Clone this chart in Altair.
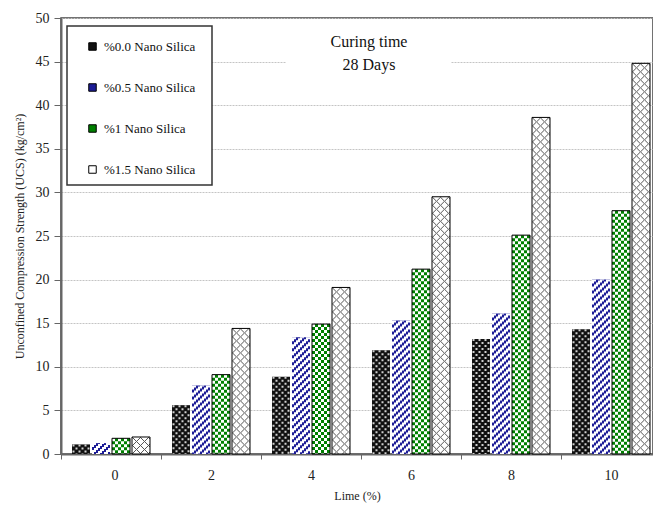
import json
import altair as alt
import pandas as pd

lime = ["0", "2", "4", "6", "8", "10"]
series = ["%0.0 Nano Silica", "%0.5 Nano Silica", "%1 Nano Silica", "%1.5 Nano Silica"]
ns00 = [1.1, 5.6, 8.85, 11.9, 13.2, 14.3]
ns05 = [1.25, 7.85, 13.4, 15.3, 16.1, 20.0]
ns10 = [1.8, 9.1, 14.9, 21.2, 25.1, 27.9]
ns15 = [1.95, 14.4, 19.1, 29.5, 38.6, 44.8]
yticks = [0, 5, 10, 15, 20, 25, 30, 35, 40, 45, 50]
title_lines = ["Curing time", "28 Days"]

rows = []
for s, (name, vals) in enumerate(zip(series, [ns00, ns05, ns10, ns15])):
    for g, (l, v) in enumerate(zip(lime, vals)):
        rows.append({"lime": l, "g": g, "series": name, "s": s, "ucs": v})
df = pd.DataFrame(rows)
one = pd.DataFrame({"k": [0]})

FONT = "Liberation Serif"
colors = ["#111111", "#1c1c96", "#008000", "#ffffff"]

W, H = 592, 436
UNIT = 100.0                  # pixels per category
GROUP_LEFT, STEP, BARW = 11.0, 20.0, 18.0

xaxis = alt.Axis(title="Lime (%)", values=list(range(len(lime))),
                 labelExpr=json.dumps(lime) + "[datum.value]",
                 labelOffset=UNIT / 2, labelPadding=9, titlePadding=8,
                 grid=False, tickSize=5)
xscale = alt.Scale(domain=[0, W / UNIT], nice=False, zero=False)


def X(field):
    return alt.X(field + ":Q", scale=xscale, axis=xaxis)


def X2(field):
    return alt.X2(field)


Y = alt.Y("ucs:Q", scale=alt.Scale(domain=[0, 50], nice=False),
          axis=alt.Axis(title="Unconfined Compression Strength (UCS) (kg/cm²)",
                        values=yticks, tickSize=7, labelPadding=5, titlePadding=9,
                        grid=True, gridColor="#c4c4c4", gridDash=[2, 1]))

center_expr = f"datum.g + ({GROUP_LEFT} + {STEP} * datum.s + {BARW / 2}) / {UNIT}"

base = alt.Chart(df).transform_calculate(c=center_expr)

legend_box = alt.Chart(one).mark_rect(fill="white", stroke="#333", strokeWidth=1.5).encode(
    x=alt.value(6), x2=alt.value(151), y=alt.value(8), y2=alt.value(167))
text_box = alt.Chart(one).mark_rect(fill="white").encode(
    x=alt.value(225), x2=alt.value(390), y=alt.value(2), y2=alt.value(62))
title_text = alt.Chart(one).mark_text(text=title_lines, font=FONT, fontSize=16,
                                      lineHeight=23, align="center", baseline="alphabetic",
                                      color="#111").encode(x=alt.value(308), y=alt.value(29))

bars = base.transform_calculate(
    x0=f"datum.c - {BARW / 2} / {UNIT}", x1=f"datum.c + {BARW / 2} / {UNIT}"
).mark_bar().encode(
    x=X("x0"), x2=X2("x1"), y=Y, y2=alt.datum(0),
    fill=alt.Fill("series:N", sort=series,
                  scale=alt.Scale(domain=series, range=colors),
                  legend=alt.Legend(title=None, orient="none", legendX=25, legendY=22,
                                    symbolType="square", symbolSize=56,
                                    symbolStrokeColor="#000", symbolStrokeWidth=1,
                                    labelFont=FONT, labelFontSize=13, labelColor="#111",
                                    labelOffset=5, rowPadding=27, padding=0)))

layers = [legend_box, text_box, bars]


def rule_layer(name, color, width, dash, offset, px):
    return base.transform_filter(alt.datum.series == name).transform_calculate(
        xr=f"datum.c + ({px}) / {UNIT}"
    ).mark_rule(color=color, strokeWidth=width, strokeDash=dash,
                strokeDashOffset=offset).encode(
        x=X("xr"), y=Y, y2=alt.datum(0))


# black: light dots
for i in range(6):
    layers.append(rule_layer(series[0], "#d0d0d0", 2, [2, 4], 0 if i % 2 == 0 else 3, -7.5 + 3 * i))
# blue: white diagonal stripes
for i in range(9):
    layers.append(rule_layer(series[1], "#ffffff", 2, [4, 3], (2 * i) % 7, -8 + 2 * i))
# green: white checks
for i in range(6):
    layers.append(rule_layer(series[2], "#ffffff", 3, [3, 3], 0 if i % 2 == 0 else 3, -7.5 + 3 * i))
# white: grey cross hatch
P = 8
for i in range(18):
    p1 = i % P
    p2 = (-i) % P
    if p1 == p2:
        dash = [1, P - 1]
        p = p1
    else:
        p, q = min(p1, p2), max(p1, p2)
        dash = [1, q - p - 1, 1, P - (q - p) - 1]
    layers.append(rule_layer(series[3], "#555555", 1, dash, (P - p) % P, -8.5 + i))

outline = base.transform_filter(
    (alt.datum.series == series[2]) | (alt.datum.series == series[3])
).transform_calculate(
    x0=f"datum.c - {BARW / 2} / {UNIT}", x1=f"datum.c + {BARW / 2} / {UNIT}"
).mark_bar(fillOpacity=0, stroke="#000", strokeWidth=1).encode(
    x=X("x0"), x2=X2("x1"), y=Y, y2=alt.datum(0))
layers.append(outline)
layers.append(title_text)

chart = alt.layer(*layers).properties(
    width=W, height=H,
    autosize=alt.AutoSizeParams(type="none"),
    padding={"left": 53, "top": 10, "right": 0, "bottom": 49},
).configure_view(
    stroke="#444", strokeWidth=1.5
).configure_axis(
    labelFont=FONT, labelFontSize=14, labelColor="#222",
    titleFont=FONT, titleFontSize=12, titleFontWeight="normal", titleColor="#222",
    domainColor="#666", domainWidth=2, tickColor="#666", tickSize=5
)

chart.save("out.html", embed_options={"renderer": "svg", "actions": False})
